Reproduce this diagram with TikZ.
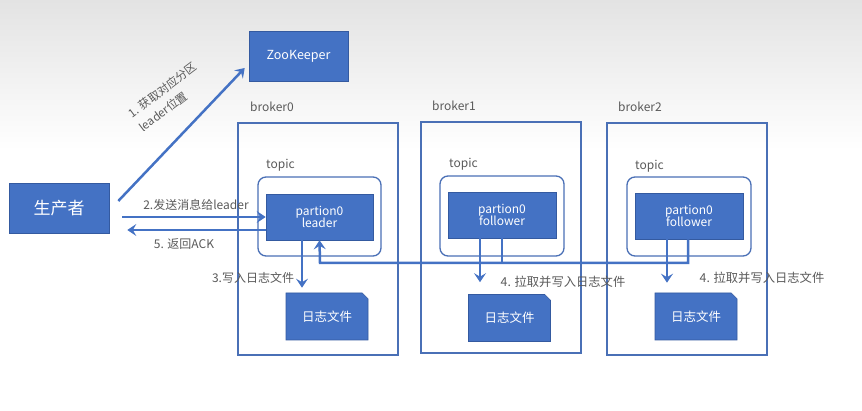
\documentclass[tikz,border=0pt]{standalone}
\usepackage{fontspec}
\setmainfont{Noto Sans CJK SC}
\usetikzlibrary{shapes.misc,arrows.meta,calc}
\definecolor{boxblue}{RGB}{68,114,196}
\definecolor{boxedge}{RGB}{52,90,160}
\definecolor{framecol}{RGB}{74,112,182}
\definecolor{arrowblue}{RGB}{68,114,196}
\definecolor{labelgray}{RGB}{90,90,90}
\begin{document}
\begin{tikzpicture}[x=1pt,y=-1pt,
  bluebox/.style={fill=boxblue, draw=boxedge, line width=0.6pt, text=white, inner sep=0pt, align=center},
  brokerbox/.style={draw=framecol, line width=1.3pt, inner sep=0pt},
  topicbox/.style={draw=framecol, line width=1.3pt, rounded corners=8pt, inner sep=0pt},
  lbl/.style={text=labelgray, font=\fontsize{12}{14}\selectfont, inner sep=0pt},
  arr/.style={draw=arrowblue, line width=2.5pt, -{Stealth[length=9pt,width=12pt,inset=3.5pt]}},
  ln/.style={draw=arrowblue, line width=2.5pt},
  logbox/.style={bluebox, chamfered rectangle, chamfered rectangle corners=north east, chamfered rectangle xsep=8pt, chamfered rectangle ysep=0pt, minimum width=82pt, minimum height=47pt, font=\fontsize{12.5}{14}\selectfont}]
% background
\useasboundingbox (0,0) rectangle (862,411);
\fill[white] (0,0) rectangle (862,411);
\shade[top color=black!11, bottom color=white] (0,0) rectangle (862,150);
% brokers
\node[brokerbox, minimum width=160pt, minimum height=232pt] (b0) at (318,239) {};
\node[brokerbox, minimum width=160pt, minimum height=231pt] (b1) at (501,237.5) {};
\node[brokerbox, minimum width=160pt, minimum height=232pt] (b2) at (687,239) {};
\node[lbl, anchor=west] (b0l) at (250,107) {broker0};
\node[lbl, anchor=west] (b1l) at (432,106) {broker1};
\node[lbl, anchor=west] (b2l) at (618,107) {broker2};
% topics
\node[topicbox, minimum width=123pt, minimum height=79pt] (t0) at (319.5,216.5) {};
\node[topicbox, minimum width=124pt, minimum height=80pt] (t1) at (502,216) {};
\node[topicbox, minimum width=124pt, minimum height=79pt] (t2) at (689,216.5) {};
\node[lbl, anchor=west] (t0l) at (266,165) {topic};
\node[lbl, anchor=west] (t1l) at (449,164) {topic};
\node[lbl, anchor=west] (t2l) at (635,166) {topic};
% partitions
\node[bluebox, minimum width=107pt, minimum height=46pt, font=\fontsize{12}{14}\selectfont] (lead) at (319.5,217) {partion0\\[-2pt]leader};
\node[bluebox, minimum width=108pt, minimum height=46pt, font=\fontsize{12}{14}\selectfont] (f1) at (502,215) {partion0\\[-2pt]follower};
\node[bluebox, minimum width=108pt, minimum height=46pt, font=\fontsize{12}{14}\selectfont] (f2) at (689,216) {partion0\\[-2pt]follower};
% logs
\node[logbox] (log0) at (327,316.5) {日志文件};
\node[logbox] (log1) at (509.5,318) {日志文件};
\node[logbox] (log2) at (696,316.5) {日志文件};
% zookeeper & producer
\node[bluebox, minimum width=99pt, minimum height=50pt, font=\fontsize{12.5}{14}\selectfont] (zk) at (298.5,56) {ZooKeeper};
\node[bluebox, minimum width=100pt, minimum height=50pt, font=\fontsize{17}{20}\selectfont] (prod) at (59,208) {生产者};
% arrows
\draw[arr] ([xshift=9pt,yshift=7pt]prod.east) -- ([xshift=-4pt,yshift=-12pt]zk.west);
\draw[arr] ([xshift=13pt,yshift=-9pt]prod.east) -- (lead.west);
\draw[arr] ([yshift=-13pt]lead.west) -- ([xshift=18pt,yshift=-22pt]prod.east);
\draw[arr] ([xshift=-17.5pt]lead.south) -- ([xshift=-17.5pt,yshift=5pt]lead.south |- log0.north);
\coordinate (bus) at (320,263);
\draw[arr] ([xshift=-1pt]f2.south) |- (bus) -- (lead.south);
\draw[ln] (f1.south) -- (f1.south |- bus);
\draw[arr] ([xshift=-22pt]f1.south) -- ([xshift=-22pt,yshift=12pt]f1.south |- log1.north);
\draw[arr] ([xshift=-22pt]f2.south) -- ([xshift=-22pt,yshift=10pt]f2.south |- log2.north);
% labels
\node[lbl, rotate=37, align=left, font=\fontsize{11.5}{18}\selectfont] (l1) at (168,97) {1. 获取对应分区\\leader位置};
\node[lbl] (l2) at (196,205) {2.发送消息给leader};
\node[lbl] (l5) at (184,244) {5. 返回ACK};
\node[lbl] (l3) at (253,278) {3.写入日志文件};
\node[lbl, font=\fontsize{12.3}{14}\selectfont] (l4a) at (563,282) {4. 拉取并写入日志文件};
\node[lbl, font=\fontsize{12.3}{14}\selectfont] (l4b) at (762,278) {4. 拉取并写入日志文件};
\end{tikzpicture}
\end{document}
